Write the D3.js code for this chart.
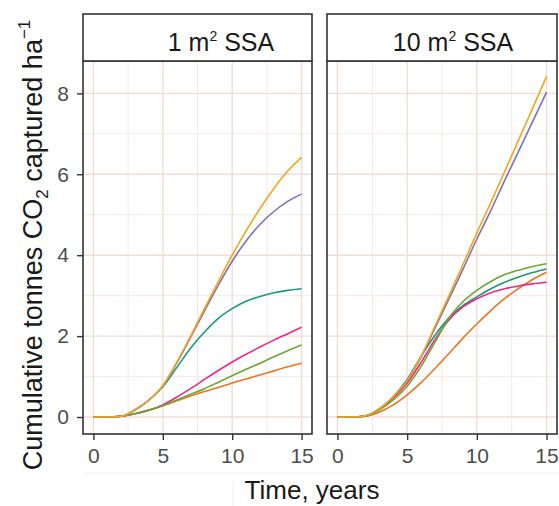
<!DOCTYPE html>
<html><head><meta charset="utf-8">
<script src="https://cdn.jsdelivr.net/npm/d3@7"></script>
<style>body{margin:0;background:#fff} text{font-family:"Liberation Sans",Arial,sans-serif}</style>
</head><body><svg id="c" width="559" height="506"></svg>
<script>
// ---- data ----
const years = [0,1,2,3,4,5,6,7,8,9,10,11,12,13,14,15];
const panelLabels = ["1", "10"];
const xTicks = [0, 5, 10, 15];
const yTicks = [0, 2, 4, 6, 8];
const seriesColors = ["#1a9a78", "#ee7423", "#7f72b8", "#ec2a86", "#6aa834", "#f5a51a"];

// 1 m2 SSA panel
const p1_teal   = [0,0,0.02,0.17,0.42,0.75,1.22,1.70,2.10,2.44,2.68,2.86,2.98,3.07,3.13,3.17];
const p1_orange = [0,0,0.02,0.08,0.17,0.28,0.40,0.52,0.63,0.73,0.84,0.94,1.04,1.14,1.24,1.33];
const p1_purple = [0,0,0.02,0.18,0.42,0.77,1.33,1.97,2.62,3.26,3.85,4.35,4.76,5.08,5.33,5.51];
const p1_pink   = [0,0,0.02,0.08,0.17,0.30,0.49,0.70,0.93,1.15,1.36,1.55,1.73,1.90,2.06,2.22];
const p1_green  = [0,0,0.02,0.08,0.17,0.28,0.42,0.56,0.70,0.86,1.02,1.18,1.33,1.49,1.64,1.78];
const p1_gold   = [0,0,0.02,0.18,0.42,0.78,1.35,2.00,2.68,3.35,4.00,4.60,5.15,5.65,6.08,6.42];

// 10 m2 SSA panel
const p10_teal   = [0,0,0.03,0.20,0.50,0.93,1.50,2.02,2.45,2.75,2.97,3.17,3.33,3.46,3.57,3.66];
const p10_orange = [0,0,0.02,0.12,0.30,0.55,0.85,1.20,1.57,1.95,2.30,2.63,2.93,3.18,3.40,3.58];
const p10_purple = [0,0,0.03,0.20,0.50,0.90,1.48,2.20,2.92,3.65,4.40,5.10,5.85,6.57,7.30,8.03];
const p10_pink   = [0,0,0.02,0.19,0.47,0.84,1.35,1.92,2.40,2.72,2.92,3.07,3.17,3.24,3.29,3.33];
const p10_green  = [0,0,0.02,0.17,0.42,0.76,1.25,1.85,2.45,2.85,3.13,3.35,3.52,3.63,3.72,3.79];
const p10_gold   = [0,0,0.03,0.20,0.50,0.90,1.50,2.25,3.00,3.77,4.55,5.30,6.07,6.85,7.63,8.42];

const panelSeries = [
  [p1_teal, p1_orange, p1_purple, p1_pink, p1_green, p1_gold],
  [p10_teal, p10_orange, p10_purple, p10_pink, p10_green, p10_gold]
];

// ---- layout ----
const svg = d3.select("#c");
const panelX = [[83, 312], [327, 557]];
const pTop = 61, pBottom = 434, stripTop = 14;
const stripTextX = [221, 453];
const y = d3.scaleLinear().domain([-0.42, 8.8]).range([pBottom, pTop]);
const majorC = "#f1ddd8", minorC = "#f6ebe8", border = "#333333";

panelX.forEach((px, i) => {
  const x = d3.scaleLinear().domain([-0.75, 15.75]).range(px);
  const g = svg.append("g");
  g.append("rect").attr("x", px[0]).attr("y", pTop).attr("width", px[1]-px[0]).attr("height", pBottom-pTop).attr("fill", "#fff");
  [2.5, 7.5, 12.5].forEach(v => g.append("line").attr("x1", x(v)).attr("x2", x(v)).attr("y1", pTop).attr("y2", pBottom).attr("stroke", minorC).attr("stroke-width", 1.1));
  [1, 3, 5, 7].forEach(v => g.append("line").attr("y1", y(v)).attr("y2", y(v)).attr("x1", px[0]).attr("x2", px[1]).attr("stroke", minorC).attr("stroke-width", 1.1));
  xTicks.forEach(v => g.append("line").attr("x1", x(v)).attr("x2", x(v)).attr("y1", pTop).attr("y2", pBottom).attr("stroke", majorC).attr("stroke-width", 1.4));
  yTicks.forEach(v => g.append("line").attr("y1", y(v)).attr("y2", y(v)).attr("x1", px[0]).attr("x2", px[1]).attr("stroke", majorC).attr("stroke-width", 1.4));
  const line = d3.line().x((d, k) => x(years[k])).y(d => y(d)).curve(d3.curveMonotoneX);
  panelSeries[i].forEach((s, k) => {
    g.append("path").attr("d", line(s)).attr("fill", "none").attr("stroke", seriesColors[k]).attr("stroke-width", 1.6);
  });
  g.append("rect").attr("x", px[0]).attr("y", pTop).attr("width", px[1]-px[0]).attr("height", pBottom-pTop)
    .attr("fill", "none").attr("stroke", border).attr("stroke-width", 1.6);
  g.append("rect").attr("x", px[0]).attr("y", stripTop).attr("width", px[1]-px[0]).attr("height", pTop-stripTop)
    .attr("fill", "#fff").attr("stroke", border).attr("stroke-width", 1.6);
  const st = g.append("text").attr("x", stripTextX[i]).attr("y", 51).attr("text-anchor", "middle")
    .attr("font-size", 25).attr("fill", "#1a1a1a");
  st.append("tspan").text(panelLabels[i] + " m");
  st.append("tspan").attr("font-size", 14).attr("dy", -10).text("2");
  st.append("tspan").attr("dy", 10).text(" SSA");
  const ax = g.append("g").attr("transform", `translate(0,${pBottom})`)
    .call(d3.axisBottom(x).tickValues(xTicks).tickSize(6).tickPadding(8));
  ax.select(".domain").remove();
  ax.selectAll("line").attr("stroke", border).attr("stroke-width", 1.4);
  ax.selectAll("text").attr("font-size", 21).attr("fill", "#4d4d4d").attr("font-family", "Liberation Sans, Arial, sans-serif");
  if (i === 0) {
    const ay = g.append("g").attr("transform", `translate(${px[0]},0)`)
      .call(d3.axisLeft(y).tickValues(yTicks).tickSize(6).tickPadding(8));
    ay.select(".domain").remove();
    ay.selectAll("line").attr("stroke", border).attr("stroke-width", 1.4);
    ay.selectAll("text").attr("font-size", 21).attr("fill", "#4d4d4d").attr("font-family", "Liberation Sans, Arial, sans-serif");
  }
});

svg.append("line").attr("x1", 85).attr("x2", 559).attr("y1", 473).attr("y2", 473).attr("stroke", "#eeeeee").attr("stroke-width", 1);
svg.append("line").attr("x1", 233).attr("x2", 233).attr("y1", 481).attr("y2", 506).attr("stroke", "#eeeeee").attr("stroke-width", 1);

svg.append("text").attr("x", 312).attr("y", 499).attr("text-anchor", "middle")
  .attr("font-size", 26).attr("fill", "#1a1a1a").text("Time, years");

const yt = svg.append("text").attr("transform", "translate(42,245) rotate(-90)").attr("text-anchor", "middle")
  .attr("font-size", 27).attr("fill", "#1a1a1a");
yt.append("tspan").text("Cumulative tonnes CO");
yt.append("tspan").attr("font-size", 17).attr("dy", 6).text("2");
yt.append("tspan").attr("dy", -6).text(" captured  ha");
yt.append("tspan").attr("font-size", 17).attr("dy", -12).text("\u22121");
</script></body></html>
